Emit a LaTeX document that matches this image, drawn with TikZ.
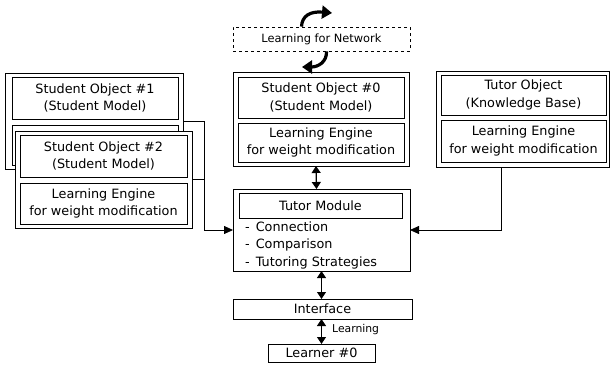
\documentclass[tikz,border=0pt]{standalone}
\usepackage{fontspec}
\setmainfont{DejaVu Sans}
\usetikzlibrary{arrows.meta}
\begin{document}
\begin{tikzpicture}[x=1pt,y=-1pt,
  txt/.style={font=\fontsize{12.8}{17.5}\selectfont},
  box/.style={draw, line width=0.8pt, fill=white, inner sep=0pt, outer sep=0pt, align=center, txt},
  frame/.style={draw, line width=0.9pt, fill=white, inner sep=0pt, outer sep=0pt},
  link/.style={line width=0.8pt},
  inarrow/.style={line width=0.8pt, -{Triangle[length=9pt,width=8pt]}},
  twoway/.style={line width=1.2pt, {Triangle[length=7pt,width=9pt]}-{Triangle[length=7pt,width=9pt]}},
  swirl/.style={line width=3.2pt, -{Triangle[length=10pt,width=13pt]}},
]
\useasboundingbox (0,0) rectangle (611,365);

% Student object #1 (partly hidden behind #2)
\node[frame, minimum width=178pt, minimum height=96pt] (s1) at (94,121) {};
\node[box, minimum width=166pt, minimum height=42pt] (s1a) at (95,98) {Student Object \#1\\(Student Model)};
\node[box, minimum width=166pt, minimum height=40pt] (s1b) at (95,145) {};

% Student object #2
\node[frame, minimum width=177pt, minimum height=97pt] (s2) at (103.5,179.5) {};
\node[box, minimum width=167pt, minimum height=42pt] (s2a) at (103.5,156) {Student Object \#2\\(Student Model)};
\node[box, minimum width=167pt, minimum height=41pt] (s2b) at (103.5,203.5) {Learning Engine\\for weight modification};

% Learning for network
\node[draw, dashed, line width=0.8pt, inner sep=0pt, minimum width=177pt, minimum height=24pt,
      font=\fontsize{11.4}{13}\selectfont] (net) at (321.5,39) {Learning for Network};

% Student object #0
\node[frame, minimum width=176pt, minimum height=94pt] (s0) at (321,119) {};
\node[box, minimum width=166pt, minimum height=41pt] (s0a) at (321,97.5) {Student Object \#0\\(Student Model)};
\node[box, minimum width=166pt, minimum height=39pt] (s0b) at (321,142.5) {Learning Engine\\for weight modification};

% Tutor object
\node[frame, minimum width=173pt, minimum height=96pt] (to) at (522.5,119) {};
\node[box, minimum width=165pt, minimum height=40pt] (toa) at (523.5,95) {Tutor Object\\(Knowledge Base)};
\node[box, minimum width=165pt, minimum height=42pt] (tob) at (523.5,141) {Learning Engine\\for weight modification};

% Tutor module
\node[frame, minimum width=177pt, minimum height=82pt] (tm) at (321.5,230) {};
\node[box, minimum width=163pt, minimum height=25pt] (tma) at (320.5,205.5) {Tutor Module};
\node[anchor=west, align=left, inner sep=0pt, font=\fontsize{12.8}{17.5}\selectfont] (items) at (245,245)
  {-\hspace{6pt}Connection\\-\hspace{6pt}Comparison\\-\hspace{6pt}Tutoring Strategies};

% Interface and learner
\node[box, minimum width=179pt, minimum height=20pt] (if) at (322.5,309) {Interface};
\node[box, minimum width=107pt, minimum height=18pt] (ln) at (321.5,353) {Learner \#0};
\node[anchor=west, inner sep=0pt, font=\fontsize{10.8}{12}\selectfont] (lbl) at (332,330) {Learning};

% Connectors into the tutor module
\coordinate (j) at (204,0);
\coordinate (k) at (501,0);
\draw[inarrow] (s1.east) -| (j |- tm.west) -- (tm.west);
\draw[link] (s2.east) -- (s2.east -| j);
\draw[inarrow] (to.south -| k) |- (tm.east);

% Two-way links down the centre
\draw[twoway] ([xshift=-5pt]s0.south) -- ([xshift=-5pt]tm.north);
\draw[twoway] (tm.south) -- (tm.south |- if.north);
\draw[twoway] (ln.north |- if.south) -- (ln.north);

% Curved arrows around the network box
\coordinate (t1) at (332,13);
\coordinate (t2) at (302,67);
\draw[swirl] ([xshift=-20pt]net.north) .. controls (302,16) and (310,11) .. (t1);
\draw[swirl] ([xshift=5pt]net.south) .. controls (327,62) and (318,67) .. (t2);
\end{tikzpicture}
\end{document}
